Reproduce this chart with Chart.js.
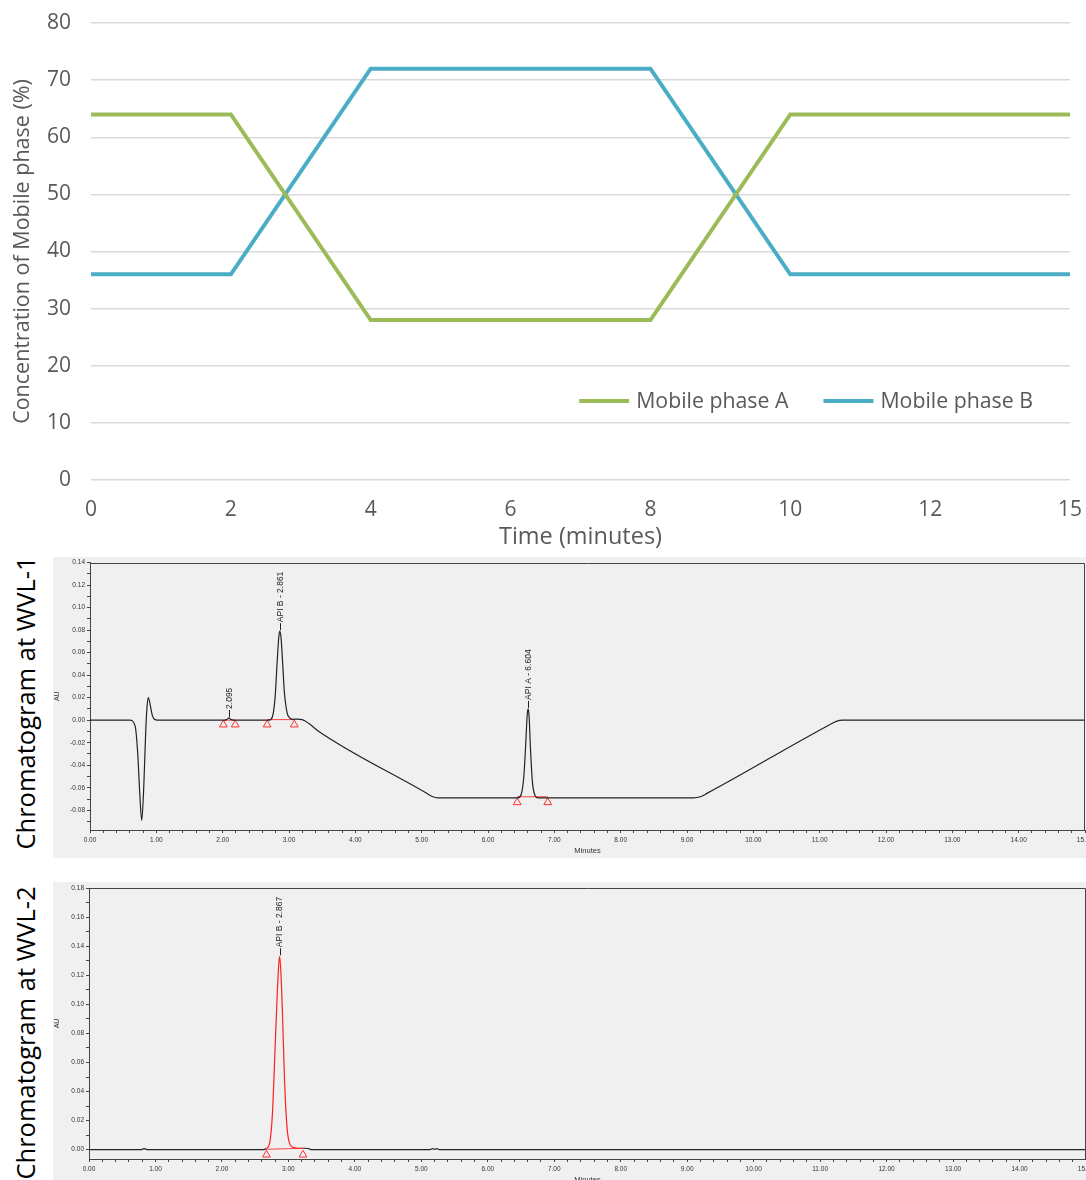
<!DOCTYPE html>
<html>
<head>
<meta charset="utf-8">
<script src="https://cdn.jsdelivr.net/npm/chart.js@4.4.1/dist/chart.umd.min.js"></script>
<style>
  html, body { margin:0; padding:0; background:#fff; width:1086px; height:1180px; overflow:hidden; }
  .box { position:absolute; }
  .panel { background:#f0f0f0; }
  .vlabel { position:absolute; font-family:"Open Sans", sans-serif; font-size:25.5px; color:#000;
            white-space:nowrap; transform:translate(-50%,-50%) rotate(-90deg); }
</style>
</head>
<body>
<div class="box" style="left:0;top:0;width:1086px;height:552px;"><canvas id="grad"></canvas></div>
<div class="vlabel" style="left:25px;top:703px;">Chromatogram at WVL-1</div>
<div class="box panel" style="left:53px;top:557px;width:1047px;height:301px;"><canvas id="wvl1"></canvas></div>
<div class="vlabel" style="left:25px;top:1033px;">Chromatogram at WVL-2</div>
<div class="box panel" style="left:53px;top:882px;width:1047px;height:305px;"><canvas id="wvl2"></canvas></div>
<script>
// ---------- Gradient program ----------
const timeLabels = ['0','2','4','6','8','10','12','15'];
const phaseA = [64, 64, 28, 28, 28, 64, 64, 64];
const phaseB = [36, 36, 72, 72, 72, 36, 36, 36];
const seriesNames = ['Mobile phase A', 'Mobile phase B'];

// ---------- Chromatogram WVL-1 ----------
const t1  = [0, 0.60, 0.68, 0.72, 0.75, 0.78, 0.81, 0.84, 0.86, 0.88, 0.91, 0.94, 0.98, 1.05,
             2.00, 2.06, 2.095, 2.13, 2.20, 2.70, 2.75, 2.79, 2.82, 2.845, 2.861, 2.88, 2.905, 2.93, 2.97, 3.01, 3.06, 3.12, 3.20, 3.30, 3.45,
             5.05, 5.15, 5.25, 5.35, 6.45, 6.50, 6.54, 6.57, 6.59, 6.604, 6.62, 6.64, 6.67, 6.71, 6.76,
             9.10, 9.20, 9.30, 11.15, 11.25, 11.35, 11.45, 15];
const au1 = [0, 0, -0.005, -0.03, -0.065, -0.089, -0.06, -0.01, 0.012, 0.020, 0.013, 0.004, 0.0005, 0,
             0, 0.0005, 0.002, 0.0005, 0, 0, 0.003, 0.02, 0.05, 0.073, 0.079, 0.073, 0.05, 0.025, 0.007, 0.002, 0.0008, 0.001, 0.0005, -0.003, -0.010,
             -0.064, -0.0675, -0.069, -0.069, -0.069, -0.066, -0.05, -0.02, 0.004, 0.010, 0.003, -0.025, -0.055, -0.067, -0.069,
             -0.069, -0.068, -0.065, -0.004, -0.001, 0, 0, 0];
const base1T = [2.01, 2.19, null, 2.67, 3.08, null, 6.44, 6.90];
const base1Y = [0.0, 0.0, null, 0.0005, 0.0005, null, -0.068, -0.068];
const mark1T = [2.01, 2.19, 2.67, 3.08, 6.44, 6.90];
const mark1Y = [-0.004, -0.004, -0.004, -0.004, -0.073, -0.073];
const peak1T = [2.095, 2.861, 6.604];
const peak1Y = [0.002, 0.079, 0.010];
const peak1Names = ['2.095', 'API B - 2.861', 'API A - 6.604'];

// ---------- Chromatogram WVL-2 ----------
const t2  = [0, 0.78, 0.83, 0.88, 2.62, 2.67, 2.72, 2.76, 2.80, 2.83, 2.85, 2.867, 2.885, 2.91, 2.94, 2.98, 3.02, 3.08, 3.15, 3.22, 3.30, 3.35,
             5.12, 5.17, 5.20, 5.23, 5.28, 15];
const au2 = [0, 0, 0.0008, 0, 0, 0.0008, 0.005, 0.025, 0.07, 0.105, 0.124, 0.133, 0.124, 0.095, 0.05, 0.015, 0.004, 0.0015, 0.001, 0.001, 0.0008, 0,
             0, 0.0007, 0.0002, 0.0007, 0, 0];
const red2Range = [2.67, 3.22];
const base2T = [2.67, 3.22];
const base2Y = [0.0003, 0.001];
const mark2T = [2.67, 3.22];
const mark2Y = [-0.0035, -0.0035];
const peak2T = [2.867];
const peak2Y = [0.133];
const peak2Names = ['API B - 2.867'];

const xy = (xs, ys) => xs.map((x, i) => (x === null ? {x: null, y: null} : {x: x, y: ys[i]}));

// Remove tick-label overhang so layout padding alone positions the plot area
const noOverhang = s => { s.paddingTop = 0; s.paddingBottom = 0; s.paddingLeft = 0; s.paddingRight = 0; };

// ---------- Plugins ----------
const insideLegend = {
  id: 'insideLegend',
  afterDatasetsDraw(chart) {
    const ctx = chart.ctx, ca = chart.chartArea;
    const font = '21.3px "Open Sans"';
    ctx.save();
    ctx.font = font;
    const sample = 50, gap = 7, between = 35;
    const ds = chart.data.datasets;
    let widths = ds.map(d => sample + gap + ctx.measureText(d.label).width);
    let total = widths.reduce((a, b) => a + b, 0) + between * (ds.length - 1);
    let x = ca.right - 37 - total;
    const y = ca.bottom - 79;
    ds.forEach((d, i) => {
      ctx.strokeStyle = d.borderColor; ctx.lineWidth = 4; ctx.lineCap = 'butt';
      ctx.beginPath(); ctx.moveTo(x, y); ctx.lineTo(x + sample, y); ctx.stroke();
      ctx.fillStyle = '#595959'; ctx.textBaseline = 'middle'; ctx.textAlign = 'left';
      ctx.fillText(d.label, x + sample + gap, y + 1);
      x += widths[i] + between;
    });
    ctx.restore();
  }
};

const frame = {
  id: 'frame',
  afterDraw(chart) {
    const ctx = chart.ctx, ca = chart.chartArea;
    ctx.save();
    ctx.strokeStyle = '#444'; ctx.lineWidth = 1;
    ctx.beginPath();
    ctx.moveTo(Math.round(ca.left) + 0.5, Math.round(ca.top) + 0.5);
    ctx.lineTo(Math.round(ca.right) - 0.5, Math.round(ca.top) + 0.5);
    ctx.lineTo(Math.round(ca.right) - 0.5, Math.round(ca.bottom));
    ctx.stroke();
    ctx.restore();
  }
};

const peakLabels = {
  id: 'peakLabels',
  afterDatasetsDraw(chart, args, opts) {
    if (!opts || !opts.times) return;
    const ctx = chart.ctx, xs = chart.scales.x, ys = chart.scales.y;
    ctx.save();
    ctx.font = '8.5px "Liberation Sans", Arial, sans-serif';
    ctx.fillStyle = '#222'; ctx.strokeStyle = '#222'; ctx.lineWidth = 1;
    opts.times.forEach((t, i) => {
      const px = xs.getPixelForValue(t), py = ys.getPixelForValue(opts.tops[i]);
      ctx.beginPath(); ctx.moveTo(Math.round(px) + 0.5, py - 1); ctx.lineTo(Math.round(px) + 0.5, py - 8); ctx.stroke();
      ctx.save();
      ctx.translate(px + 0.5, py - 9);
      ctx.rotate(-Math.PI / 2);
      ctx.textAlign = 'left'; ctx.textBaseline = 'middle';
      ctx.fillText(opts.names[i], 0, 0);
      ctx.restore();
    });
    ctx.restore();
  }
};

// ---------- Gradient chart ----------
new Chart(document.getElementById('grad'), {
  type: 'line',
  data: {
    labels: timeLabels,
    datasets: [
      { label: seriesNames[0], data: phaseA, borderColor: '#9bbb59', backgroundColor: '#9bbb59', borderWidth: 4, pointRadius: 0, tension: 0 },
      { label: seriesNames[1], data: phaseB, borderColor: '#4bacc6', backgroundColor: '#4bacc6', borderWidth: 4, pointRadius: 0, tension: 0 }
    ]
  },
  options: {
    responsive: true, maintainAspectRatio: false, animation: false,
    layout: { padding: { top: 23, right: 16, left: 0, bottom: 0 } },
    plugins: { legend: { display: false }, tooltip: { enabled: false } },
    scales: {
      x: {
        type: 'category', offset: false,
        grid: { display: false, drawTicks: false },
        border: { display: false },
        ticks: { color: '#595959', font: { family: 'Open Sans', size: 21 }, padding: 17, maxRotation: 0, autoSkip: false },
        title: { display: true, text: 'Time (minutes)', color: '#595959', font: { family: 'Open Sans', size: 23.5 }, padding: { top: 0, bottom: 1 } },
        afterFit: s => { s.height = 72; noOverhang(s); }
      },
      y: {
        min: 0, max: 80,
        grid: { color: '#d9d9d9', lineWidth: 1.5, drawTicks: false },
        border: { display: false },
        ticks: { stepSize: 10, color: '#595959', font: { family: 'Open Sans', size: 21 }, padding: 20 },
        title: { display: true, text: 'Concentration of Mobile phase (%)', color: '#595959', font: { family: 'Open Sans', size: 21.5 }, padding: { top: 10, bottom: 0 } },
        afterFit: s => { s.width = 91; noOverhang(s); }
      }
    }
  },
  plugins: [insideLegend]
});

// ---------- Chromatogram common options ----------
function chromOptions(yMin, yMax, yAxisWidth, padTop, padRight, peaks) {
  const tickFont = { family: 'Liberation Sans', size: 6.5 };
  return {
    responsive: true, maintainAspectRatio: false, animation: false,
    layout: { padding: { top: padTop, right: padRight, left: 0, bottom: 0 } },
    plugins: { legend: { display: false }, tooltip: { enabled: false }, peakLabels: peaks },
    scales: {
      x: {
        type: 'linear', min: 0, max: 15,
        grid: { drawOnChartArea: false, drawTicks: true, tickLength: 3, tickColor: '#444' },
        border: { display: true, color: '#444', width: 1 },
        ticks: {
          stepSize: 0.2, autoSkip: false, maxRotation: 0, minRotation: 0, includeBounds: false,
          color: '#333', font: tickFont, padding: 3,
          callback: v => (Math.abs(v - Math.round(v)) < 1e-6 ? Math.round(v).toFixed(2) : '')
        },
        title: { display: true, text: 'Minutes', color: '#333', font: { family: 'Liberation Sans', size: 7.5 }, padding: { top: 0, bottom: 2.5 } },
        afterFit: s => { s.height = 28; noOverhang(s); }
      },
      y: {
        type: 'linear', min: yMin, max: yMax,
        grid: { drawOnChartArea: false, drawTicks: true, tickLength: 3, tickColor: '#444' },
        border: { display: true, color: '#444', width: 1 },
        ticks: {
          stepSize: 0.01, autoSkip: false, includeBounds: false,
          color: '#333', font: tickFont, padding: 2,
          callback: v => { const k = Math.round(v * 100); return (k % 2 === 0) ? (k / 100).toFixed(2) : ''; }
        },
        title: { display: true, text: 'AU', color: '#333', font: { family: 'Liberation Sans', size: 7 }, padding: { top: 0, bottom: 0 } },
        afterFit: s => { s.width = yAxisWidth; noOverhang(s); }
      }
    }
  };
}

const markerSet = (xs, ys) => ({
  data: xy(xs, ys), showLine: false, pointStyle: 'triangle', pointRadius: 4.5,
  borderColor: '#ff3030', backgroundColor: 'rgba(0,0,0,0)', pointBorderWidth: 1
});

// ---------- WVL-1 ----------
new Chart(document.getElementById('wvl1'), {
  type: 'line',
  data: {
    datasets: [
      { data: xy(t1, au1), borderColor: '#222', borderWidth: 1.2, pointRadius: 0, cubicInterpolationMode: 'monotone' },
      { data: xy(base1T, base1Y), borderColor: '#ff4040', borderWidth: 1, pointRadius: 0, spanGaps: false },
      markerSet(mark1T, mark1Y)
    ]
  },
  options: chromOptions(-0.0975, 0.14, 37, 4, 15, { times: peak1T, tops: peak1Y, names: peak1Names }),
  plugins: [frame, peakLabels]
});

// ---------- WVL-2 ----------
new Chart(document.getElementById('wvl2'), {
  type: 'line',
  data: {
    datasets: [
      { data: xy(t2, au2), borderColor: '#222', borderWidth: 1.2, pointRadius: 0, cubicInterpolationMode: 'monotone',
        segment: { borderColor: c => (c.p0.parsed.x >= red2Range[0] && c.p1.parsed.x <= red2Range[1]) ? '#ff2020' : '#222' } },
      { data: xy(base2T, base2Y), borderColor: '#ff4040', borderWidth: 1, pointRadius: 0 },
      markerSet(mark2T, mark2Y)
    ]
  },
  options: chromOptions(-0.0064, 0.18, 36, 6, 14, { times: peak2T, tops: peak2Y, names: peak2Names }),
  plugins: [frame, peakLabels]
});
</script>
</body>
</html>
